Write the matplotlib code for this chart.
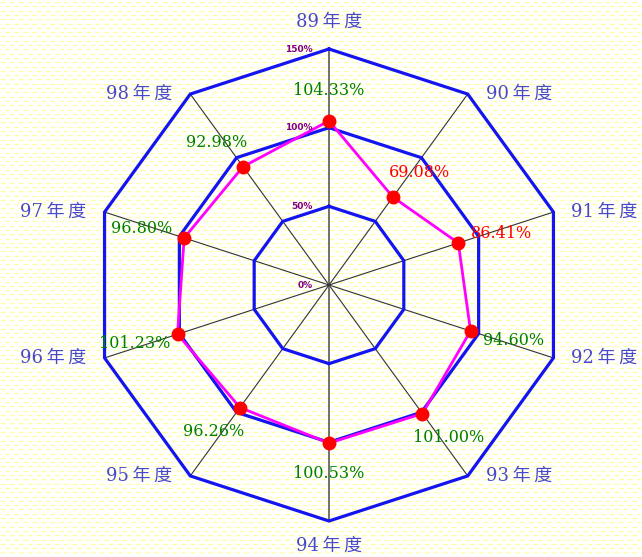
import numpy as np
import matplotlib
matplotlib.use("Agg")
import matplotlib.pyplot as plt

plt.rcParams['lines.scale_dashes'] = False

years = ['89年度', '90年度', '91年度', '92年度', '93年度',
         '94年度', '95年度', '96年度', '97年度', '98年度']
rates = [104.33, 69.08, 86.41, 94.60, 101.00, 100.53, 96.26, 101.23, 96.80, 92.98]
rings = [0, 50, 100, 150]
ring_labels = ['0%', '50%', '100%', '150%']

W, H = 642, 557
cx, cy = 329, 285          # centre of the web, in pixels
s = 236 / 150.0            # pixels per percent
PT = 0.72                  # points per pixel at dpi 100

fig = plt.figure(figsize=(W / 100, H / 100), dpi=100)

# striped pale-yellow background
bg = fig.add_axes([0, 0, 1, 1])
bg.set_xlim(0, W)
bg.set_ylim(H, 0)
bg.axis('off')
for k, yy in enumerate(np.arange(2, H, 4.3)):
    off = 0 if k % 2 == 0 else 3.2
    bg.hlines(yy, 0, W, colors='#FFFFA8', lw=0.9,
              linestyles=[(off, (3.6, 2.9))])

ax = fig.add_axes([0, 0, 1, 1])
ax.patch.set_alpha(0)
ax.set_xlim(-cx / s, (W - cx) / s)
ax.set_ylim(-(H - cy) / s, cy / s)
ax.axis('off')

n = len(years)
theta = np.deg2rad(90 - 360.0 / n * np.arange(n))
ct, st = np.cos(theta), np.sin(theta)

# spokes
rmax = rings[-1]
for c, sn in zip(ct, st):
    vert = abs(c) < 0.01
    ax.plot([0, rmax * c], [0, rmax * sn], color='#666666' if vert else '#333333',
            lw=1.3 if vert else 0.8, zorder=2)

# rings
for r in rings[1:]:
    xs = np.append(r * ct, r * ct[0])
    ys = np.append(r * st, r * st[0])
    ax.plot(xs, ys, color='#1414F0', lw=2.3, zorder=3, solid_joinstyle='miter')

# ring labels
for r, lab in zip(rings, ring_labels):
    ax.annotate(lab, (0, r), xytext=(-12, 0), textcoords='offset points',
                ha='right', va='center', fontsize=6.5, fontweight='bold',
                color='#800080', family='DejaVu Sans', zorder=6)

# data polygon
vals = np.array(rates)
px = np.append(vals * ct, vals[0] * ct[0])
py = np.append(vals * st, vals[0] * st[0])
ax.plot(px, py, color='#FF00FF', lw=2.0, zorder=4)
ax.plot(vals * ct, vals * st, 'o', color='#FF0000', ms=9, mec='#FF0000', zorder=5)

# value labels
for v, c, sn in zip(rates, ct, st):
    col = '#008000' if v >= 90 else '#FF0000'
    ax.annotate('%.2f%%' % v, (v * c, v * sn),
                xytext=(45 * c * PT, 30 * sn * PT),
                textcoords='offset points', ha='center', va='center',
                fontsize=11.5, color=col, family='DejaVu Serif', zorder=6)

# category labels
for lab, c, sn in zip(years, ct, st):
    if abs(c) < 0.01:
        ha = 'center'
        dx, dy = 0, (27 if sn > 0 else -25)
    else:
        ha = 'left' if c > 0 else 'right'
        dx, dy = (18 if c > 0 else -18), 0
    txt = lab[:2] + '\u2009' + lab[2] + '\u2009' + lab[3]
    ax.annotate(txt, (rmax * c, rmax * sn), xytext=(dx * PT, dy * PT),
                textcoords='offset points', ha=ha, va='center',
                fontsize=13, color='#4848C8',
                family=['DejaVu Serif', 'Noto Sans CJK TC'], zorder=6)

fig.savefig('out.png', dpi=100)
